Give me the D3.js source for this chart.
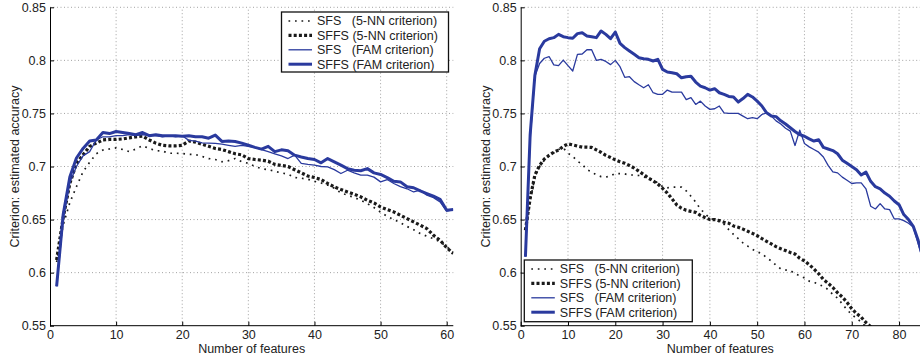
<!DOCTYPE html>
<html>
<head>
<meta charset="utf-8">
<script src="https://cdn.jsdelivr.net/npm/d3@7"></script>
<style>
body { margin: 0; background: #fff; }
svg { display: block; font-family: "Liberation Sans", Arial, Helvetica, sans-serif; }
</style>
</head>
<body>
<svg id="chart" width="920" height="362"></svg>
<script>
// values, one per feature count (first value = 1 feature)

// left panel
var left_sfs_nn = [0.610,0.645,0.666,0.681,0.695,0.704,0.712,0.7155,0.7165,0.7175,
    0.716,0.714,0.7165,0.7195,0.717,0.715,0.7145,0.7125,0.7125,0.7123,
    0.7115,0.7113,0.7095,0.7075,0.7066,0.7045,0.7055,0.7075,0.7045,0.703,
    0.700,0.698,0.697,0.6955,0.694,0.6928,0.6896,0.689,0.688,0.686,
    0.6845,0.6825,0.6795,0.675,0.673,0.6708,0.6682,0.665,0.6613,0.657,
    0.653,0.650,0.647,0.6435,0.6405,0.6368,0.6343,0.632,0.629,0.6245,0.619];
var left_sffs_nn = [0.612,0.652,0.684,0.703,0.711,0.719,0.722,0.725,0.7255,0.7255,
    0.726,0.727,0.728,0.7285,0.725,0.722,0.720,0.7195,0.7195,0.720,
    0.724,0.723,0.721,0.719,0.717,0.716,0.714,0.712,0.711,0.7075,
    0.7066,0.706,0.705,0.702,0.701,0.700,0.697,0.694,0.691,0.6896,
    0.6877,0.684,0.6808,0.6783,0.676,0.6739,0.6714,0.6682,0.6657,0.6619,
    0.6594,0.6572,0.6541,0.6509,0.6478,0.6447,0.6415,0.6352,0.6305,0.6236,0.618];
var left_sfs_fam = [0.587,0.650,0.685,0.700,0.710,0.714,0.725,0.728,0.728,0.729,
    0.729,0.730,0.729,0.730,0.729,0.729,0.728,0.729,0.728,0.729,
    0.7246,0.724,0.7223,0.722,0.7217,0.721,0.720,0.719,0.720,0.719,
    0.718,0.716,0.714,0.712,0.710,0.7075,0.7107,0.703,0.702,0.7013,
    0.700,0.6997,0.697,0.6934,0.6965,0.694,0.6918,0.6918,0.690,0.6855,
    0.6877,0.684,0.681,0.679,0.676,0.6777,0.673,0.6707,0.6667,0.658,0.6594];
var left_sffs_fam = [0.587,0.655,0.690,0.708,0.717,0.724,0.725,0.732,0.731,0.733,
    0.732,0.731,0.730,0.732,0.729,0.730,0.729,0.729,0.729,0.7286,
    0.729,0.728,0.728,0.7267,0.7296,0.7236,0.724,0.7236,0.722,0.720,
    0.718,0.7164,0.719,0.714,0.7157,0.7148,0.7107,0.709,0.7075,0.7066,
    0.7035,0.7075,0.7044,0.7013,0.698,0.6965,0.696,0.698,0.694,0.6925,
    0.6896,0.686,0.6855,0.681,0.680,0.677,0.6745,0.672,0.669,0.6588,0.6594];

// right panel
var right_sfs_nn = [0.640,0.668,0.690,0.700,0.706,0.710,0.713,0.716,0.7175,0.7125,
    0.7095,0.705,0.702,0.697,0.695,0.692,0.6905,0.690,0.691,0.6935,
    0.6933,0.693,0.692,0.692,0.6915,0.690,0.689,0.6874,0.6845,0.681,
    0.680,0.6805,0.6805,0.6805,0.677,0.672,0.6665,0.660,0.6555,0.651,
    0.650,0.648,0.6455,0.6405,0.636,0.632,0.628,0.625,0.622,0.6195,
    0.618,0.614,0.611,0.607,0.6035,0.6025,0.602,0.599,0.597,0.595,
    0.592,0.591,0.589,0.587,0.584,0.5795,0.576,0.5705,0.565,0.5605,
    0.557,0.5535,0.549];
var right_sffs_nn = [0.640,0.670,0.692,0.701,0.707,0.7105,0.7135,0.7155,0.719,0.7213,
    0.7203,0.7192,0.7182,0.7182,0.718,0.7157,0.7133,0.7105,0.7085,0.7063,
    0.7045,0.703,0.701,0.6985,0.6955,0.6925,0.689,0.6865,0.6835,0.6795,
    0.675,0.6695,0.6638,0.6607,0.6587,0.6577,0.6568,0.654,0.6518,0.650,
    0.650,0.649,0.6475,0.6465,0.644,0.6428,0.641,0.639,0.637,0.6348,
    0.632,0.6295,0.627,0.6245,0.6225,0.6208,0.619,0.6175,0.6135,0.611,
    0.6075,0.6035,0.599,0.5935,0.590,0.586,0.581,0.577,0.572,0.566,
    0.5615,0.558,0.553,0.549];
var right_sfs_fam = [0.615,0.725,0.785,0.797,0.802,0.8036,0.7957,0.795,0.8003,0.795,
    0.790,0.8057,0.806,0.810,0.810,0.800,0.801,0.799,0.796,0.800,
    0.794,0.784,0.7846,0.780,0.777,0.7742,0.777,0.7695,0.768,0.768,
    0.772,0.770,0.770,0.770,0.763,0.7648,0.7585,0.7616,0.757,0.7538,
    0.7544,0.757,0.7506,0.750,0.750,0.750,0.7475,0.745,0.746,0.745,
    0.749,0.7506,0.7475,0.743,0.740,0.736,0.7333,0.7198,0.7343,0.7217,
    0.7185,0.716,0.7135,0.709,0.701,0.695,0.694,0.690,0.687,0.684,
    0.6846,0.6846,0.679,0.6626,0.660,0.665,0.660,0.6594,0.6506,0.6506,
    0.649,0.6465,0.643,0.628,0.612];
var right_sffs_fam = [0.615,0.730,0.786,0.811,0.818,0.8204,0.8214,0.8245,0.8223,0.8214,
    0.8208,0.8252,0.826,0.823,0.8223,0.8214,0.8277,0.8245,0.8204,0.8267,
    0.816,0.812,0.8088,0.8057,0.8025,0.8016,0.801,0.7994,0.801,0.7915,
    0.789,0.7884,0.7874,0.7836,0.7846,0.785,0.7796,0.7758,0.7742,0.772,
    0.7733,0.7695,0.768,0.766,0.7655,0.7607,0.764,0.768,0.7655,0.7616,
    0.757,0.7506,0.7475,0.747,0.743,0.740,0.7365,0.733,0.730,0.7285,
    0.726,0.724,0.7252,0.718,0.7165,0.715,0.712,0.706,0.703,0.700,
    0.697,0.692,0.6947,0.686,0.681,0.679,0.675,0.672,0.6675,0.664,
    0.6547,0.650,0.6437,0.631,0.615];

var yTicks = [0.55, 0.6, 0.65, 0.7, 0.75, 0.8, 0.85];
var xTicksLeft = [0, 10, 20, 30, 40, 50, 60];
var xTicksRight = [0, 10, 20, 30, 40, 50, 60, 70, 80];
var seriesNames = ["SFS   (5-NN criterion)", "SFFS (5-NN criterion)", "SFS   (FAM criterion)", "SFFS (FAM criterion)"];
var xLabel = "Number of features";
var yLabel = "Criterion: estimated accuracy";

var blue = "#2a3a9e";
// one style per series, same order as seriesNames
var lineStyles = [
    {color: "#1a1a1a", width: 1.7, dash: "1.7,4.8"},
    {color: "#1a1a1a", width: 3.2, dash: "3,2.2"},
    {color: blue, width: 1.3, dash: null},
    {color: blue, width: 3, dash: null}
];

function Panel(svg, id, series, xMax, xTicks, box, legendBox) {
    var x = d3.scaleLinear().domain([0, xMax]).range([box.left, box.left + box.width]);
    var y = d3.scaleLinear().domain([0.55, 0.85]).range([box.top + box.height, box.top]);
    var xEnd = Math.min(x(xMax), 920);

    var g = svg.append("g");

    // dotted grid
    g.append("g").selectAll("line.h")
        .data(yTicks.slice(1))
        .join("line")
        .attr("x1", box.left).attr("x2", xEnd)
        .attr("y1", d => y(d)).attr("y2", d => y(d))
        .attr("stroke", "#8a8a8a").attr("stroke-width", 0.8)
        .attr("stroke-dasharray", "1,2.5");
    g.append("g").selectAll("line.v")
        .data(xTicks.slice(1))
        .join("line")
        .attr("x1", d => x(d)).attr("x2", d => x(d))
        .attr("y1", y(0.55)).attr("y2", y(0.85))
        .attr("stroke", "#8a8a8a").attr("stroke-width", 0.8)
        .attr("stroke-dasharray", "1,2.5");

    // clip to the axes box
    svg.append("clipPath").attr("id", id)
        .append("rect")
        .attr("x", box.left).attr("y", box.top - 2)
        .attr("width", xEnd - box.left).attr("height", box.height + 2);

    var line = d3.line()
        .x((d, i) => x(i + 1))
        .y(d => y(d));

    var curves = g.append("g").attr("clip-path", "url(#" + id + ")");
    series.forEach(function (s, k) {
        var st = lineStyles[k];
        curves.append("path")
            .datum(s)
            .attr("d", line)
            .attr("fill", "none")
            .attr("stroke", st.color)
            .attr("stroke-width", st.width)
            .attr("stroke-dasharray", st.dash)
            .attr("stroke-linejoin", "round");
    });

    // axes, ticks point inward
    var yAxis = g.append("g")
        .attr("transform", "translate(" + box.left + ",0)")
        .call(d3.axisLeft(y).tickValues(yTicks).tickSizeInner(-4).tickSizeOuter(0).tickPadding(4)
            .tickFormat(d => String(+d.toFixed(2))));
    var xAxis = g.append("g")
        .attr("transform", "translate(0," + (box.top + box.height) + ")")
        .call(d3.axisBottom(x).tickValues(xTicks).tickSizeInner(-4).tickSizeOuter(0).tickPadding(4.5));
    [xAxis, yAxis].forEach(function (a) {
        a.select(".domain").attr("stroke", "#000").attr("stroke-width", 1);
        a.selectAll(".tick line").attr("stroke", "#000");
        a.selectAll("text").attr("fill", "#222").style("font-size", "12.5px");
    });
    // keep the x axis line inside the picture
    xAxis.select(".domain").attr("d", "M" + box.left + ",0H" + xEnd);

    g.append("text")
        .attr("x", (box.left + xEnd) / 2)
        .attr("y", 353)
        .attr("text-anchor", "middle")
        .attr("fill", "#222")
        .style("font-size", "12.5px")
        .text(xLabel);

    g.append("text")
        .attr("transform", "translate(" + (box.left - 31) + "," + (box.top + box.height / 2) + ") rotate(-90)")
        .attr("text-anchor", "middle")
        .attr("fill", "#222")
        .style("font-size", "12.5px")
        .text(yLabel);

    // legend
    var lg = g.append("g").attr("transform", "translate(" + legendBox.x + "," + legendBox.y + ")");
    lg.append("rect")
        .attr("width", legendBox.w).attr("height", legendBox.h)
        .attr("fill", "#fff").attr("stroke", "#111").attr("stroke-width", 1.3);
    seriesNames.forEach(function (name, k) {
        var st = lineStyles[k];
        var ry = 9 + k * 14.4;
        lg.append("line")
            .attr("x1", 7).attr("x2", 30.5)
            .attr("y1", ry).attr("y2", ry)
            .attr("stroke", st.color)
            .attr("stroke-width", st.width)
            .attr("stroke-dasharray", st.dash);
        lg.append("text")
            .attr("x", 35.5).attr("y", ry)
            .attr("dy", "0.35em")
            .attr("fill", "#222")
            .style("font-size", "12.5px")
            .style("white-space", "pre")
            .text(name);
    });
}

var svg = d3.select("#chart");

Panel(svg, "clipL", [left_sfs_nn, left_sffs_nn, left_sfs_fam, left_sffs_fam], 61, xTicksLeft,
    {left: 50, top: 7.3, width: 403.3, height: 318.4},
    {x: 281.5, y: 12, w: 167, h: 60});

Panel(svg, "clipR", [right_sfs_nn, right_sffs_nn, right_sfs_fam, right_sffs_fam], 85, xTicksRight,
    {left: 520.7, top: 7.3, width: 402, height: 318.4},
    {x: 524.3, y: 260, w: 168, h: 61.7});
</script>
</body>
</html>
